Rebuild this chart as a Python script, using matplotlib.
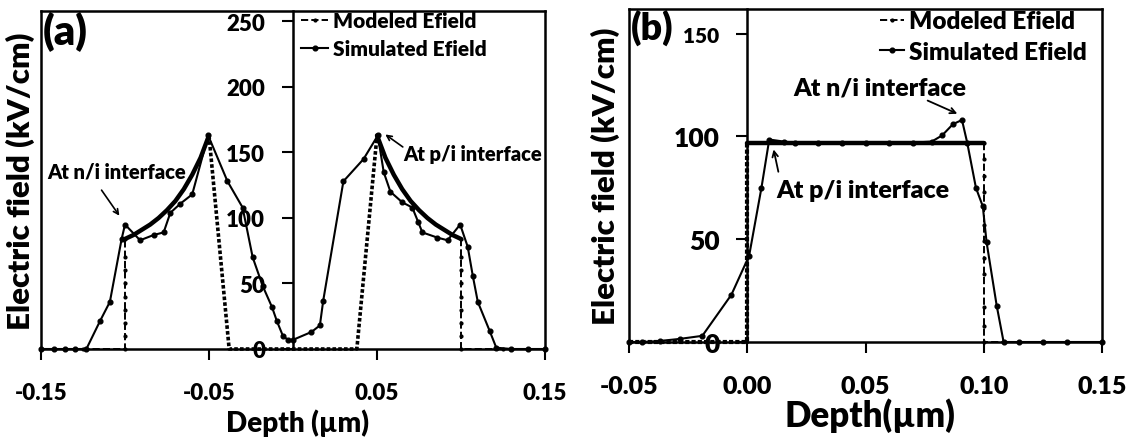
import matplotlib
matplotlib.use("Agg")
import matplotlib.pyplot as plt
from matplotlib.lines import Line2D

plt.rcParams['font.family'] = ['Lato', 'DejaVu Sans']
plt.rcParams['font.weight'] = 'heavy'

# ---------------- Panel (a) data ----------------
a_sim_x = [-0.150, -0.142, -0.136, -0.130, -0.123, -0.115, -0.109, -0.102, -0.100,
           -0.091, -0.083, -0.077, -0.073, -0.067, -0.060, -0.0505, -0.039, -0.030,
           -0.024, -0.018, -0.0125, -0.0095, -0.006, -0.003, 0.000, 0.011, 0.016,
           0.018, 0.030, 0.042, 0.0505, 0.054, 0.058, 0.065, 0.071, 0.0745, 0.077,
           0.086, 0.092, 0.0995, 0.104, 0.107, 0.110, 0.117, 0.121, 0.130, 0.140, 0.150]
a_sim_y = [0, 0, 0, 0, 0, 21, 36, 84, 95,
           83, 87, 89, 104, 111, 118, 163, 128, 108,
           70, 48, 32, 21, 10, 7, 7, 13, 18,
           37, 128, 145, 163, 135, 120, 112, 108, 97, 89,
           85, 83, 95, 78, 56, 36, 14, 1, 0, 0, 0]

# modeled: vertical edges and baseline (dashed), field region curves (thick)
a_mod_edgeL_x = [-0.150, -0.125, -0.100, -0.100, -0.100, -0.100, -0.100, -0.100, -0.100, -0.100, -0.100]
a_mod_edgeL_y = [0, 0, 0, 10, 20, 30, 40, 50, 60, 70, 84]
a_mod_curveL_x = [-0.100, -0.095, -0.090, -0.085, -0.080, -0.075, -0.070, -0.065, -0.060, -0.055, -0.050]
a_mod_curveL_y = [84, 87, 91, 95, 100, 106, 113, 122, 133, 146, 163]
a_mod_mid_x = [-0.050, -0.038, 0.000, 0.038, 0.050]
a_mod_mid_y = [163, 0, 0, 0, 163]
a_mod_curveR_x = [0.050, 0.055, 0.060, 0.065, 0.070, 0.075, 0.080, 0.085, 0.090, 0.095, 0.100]
a_mod_curveR_y = [163, 146, 133, 122, 113, 106, 100, 95, 91, 87, 84]
a_mod_edgeR_x = [0.100, 0.100, 0.100, 0.100, 0.100, 0.100, 0.100, 0.100, 0.100, 0.125, 0.150]
a_mod_edgeR_y = [84, 70, 60, 50, 40, 30, 20, 10, 0, 0, 0]

a_xticks = [-0.15, -0.05, 0.05, 0.15]
a_xticklabels = ['-0.15', '-0.05', '0.05', '0.15']
a_yticks = [0, 50, 100, 150, 200, 250]

# ---------------- Panel (b) data ----------------
b_sim_x = [-0.050, -0.0445, -0.037, -0.0286, -0.019, -0.0067, 0.0008, 0.006, 0.0093,
           0.0155, 0.020, 0.030, 0.040, 0.050, 0.060, 0.070, 0.078, 0.0824, 0.087,
           0.0908, 0.093, 0.0967, 0.0996, 0.1012, 0.1055, 0.1084, 0.115, 0.125, 0.135, 0.150]
b_sim_y = [0, 0, 0.5, 1.5, 3, 23, 42, 75, 98.5,
           97.5, 97, 97, 97, 97, 97, 97, 97.5, 100.5, 106,
           108, 97, 75, 66, 48.5, 17.5, 0, 0, 0, 0, 0]

b_mod_edgeL_x = [-0.050, -0.025, 0.000, 0.000, 0.000, 0.000, 0.000, 0.000, 0.000, 0.000, 0.000, 0.000, 0.000]
b_mod_edgeL_y = [0, 0, 0, 8, 16, 24, 32, 40, 48, 56, 64, 80, 97]
b_mod_flat_x = [0.000, 0.100]
b_mod_flat_y = [97, 97]
b_mod_edgeR_x = [0.100, 0.100, 0.100, 0.100, 0.100, 0.100, 0.100, 0.100, 0.100, 0.100, 0.100, 0.100, 0.125, 0.150]
b_mod_edgeR_y = [97, 89, 81, 73, 65, 57, 49, 41, 33, 17, 8, 0, 0, 0]

b_xticks = [-0.05, 0.00, 0.05, 0.10, 0.15]
b_xticklabels = ['-0.05', '0.00', '0.05', '0.10', '0.15']
b_yticks = [0, 50, 100, 150]

W, H = 1130, 439
fig = plt.figure(figsize=(W / 100, H / 100), dpi=100)

def px_axes(l, r, t, b):
    return fig.add_axes([l / W, 1 - b / H, (r - l) / W, (b - t) / H])

axA = px_axes(41, 545, 12, 350)
axB = px_axes(629, 1102, 10, 343)

def style_axis(ax, xfs, yfs, xpad, ypad):
    for s in ['top', 'right', 'bottom', 'left']:
        ax.spines[s].set_linewidth(1.8)
    ax.spines['left'].set_position(('data', 0))
    ax.plot([0, 0], [0, 1], transform=ax.transAxes, color='black', lw=1.8, clip_on=False)
    ax.tick_params(axis='x', direction='out', length=8, width=1.5, pad=xpad,
                   labelsize=xfs, top=False)
    ax.tick_params(axis='y', direction='out', length=8, width=1.5, pad=ypad,
                   labelsize=yfs, right=False)
    for lab in ax.get_xticklabels() + ax.get_yticklabels():
        lab.set_fontweight('heavy')

sim_kw = dict(color='black', lw=1.5, marker='o', ms=3.4, clip_on=False, zorder=4)
edge_kw = dict(color='black', lw=1.4, ls='--', marker='.', ms=4, clip_on=False, zorder=3)
curve_kw = dict(color='black', lw=3.2, solid_capstyle='round', zorder=3)

# ---- panel (a)
axA.plot(a_sim_x, a_sim_y, **sim_kw)
axA.plot(a_mod_edgeL_x, a_mod_edgeL_y, **edge_kw)
axA.plot(a_mod_edgeR_x, a_mod_edgeR_y, **edge_kw)
axA.plot(a_mod_curveL_x, a_mod_curveL_y, **curve_kw)
axA.plot(a_mod_curveR_x, a_mod_curveR_y, **curve_kw)
axA.plot(a_mod_mid_x, a_mod_mid_y, color='black', lw=2.6, ls=(0, (1, 0.6)), clip_on=False, zorder=3)
axA.set_xlim(-0.15, 0.15)
axA.set_ylim(0, 258)
axA.set_xticks(a_xticks)
axA.set_xticklabels(a_xticklabels)
axA.set_yticks(a_yticks)
style_axis(axA, 16, 16, 16, 12)

axA.set_xlabel('Depth (µm)', fontsize=20, fontweight='heavy')
axA.xaxis.set_label_coords(0.508, -0.175)
axA.set_ylabel('Electric field (kV/cm)', fontsize=22.5, fontweight='heavy')
axA.yaxis.set_label_coords(-0.012, 0.5)
axA.text(0.004, 1.0, '(a)', transform=axA.transAxes, fontsize=30, fontweight='heavy',
         ha='left', va='top')

axA.text(-0.1464, 136, 'At n/i interface', fontsize=14.5, fontweight='heavy', ha='left', va='center')
axA.annotate('', xy=(-0.1024, 100), xytext=(-0.1149, 123),
             arrowprops=dict(arrowstyle='->', color='black', lw=1.2, mutation_scale=9))
axA.text(0.0655, 149, 'At p/i interface', fontsize=14.5, fontweight='heavy', ha='left', va='center')
axA.annotate('', xy=(0.0536, 165), xytext=(0.0667, 153),
             arrowprops=dict(arrowstyle='->', color='black', lw=1.2, mutation_scale=9))

handles = [Line2D([], [], color='black', lw=1.4, ls='--', marker='.', ms=4),
           Line2D([], [], color='black', lw=1.5, marker='o', ms=3.4)]
axA.legend(handles, ['Modeled Efield', 'Simulated Efield'], loc='upper left',
           bbox_to_anchor=(0.50, 1.025), frameon=False, handlelength=1.3,
           handletextpad=0.2, labelspacing=0.45, borderaxespad=0,
           prop={'weight': 'heavy', 'size': 15})

# ---- panel (b)
axB.plot(b_sim_x, b_sim_y, **sim_kw)
axB.plot(b_mod_edgeL_x, b_mod_edgeL_y, color='black', lw=3.0, ls=(0, (1, 0.5)), clip_on=False, zorder=3)
axB.plot(b_mod_edgeR_x, b_mod_edgeR_y, **edge_kw)
axB.plot(b_mod_flat_x, b_mod_flat_y, **curve_kw)
axB.set_xlim(-0.05, 0.15)
axB.set_ylim(0, 162)
axB.set_xticks(b_xticks)
axB.set_xticklabels(b_xticklabels)
axB.set_yticks(b_yticks)
style_axis(axB, 18, 19, 16, 12)
axB.get_yticklabels()[-1].set_fontsize(15)

axB.set_xlabel('Depth(µm)', fontsize=25, fontweight='heavy')
axB.xaxis.set_label_coords(0.51, -0.165)
axB.set_ylabel('Electric field (kV/cm)', fontsize=22.5, fontweight='heavy')
axB.yaxis.set_label_coords(-0.019, 0.5)
axB.text(0.004, 1.0, '(b)', transform=axB.transAxes, fontsize=27, fontweight='heavy',
         ha='left', va='top')

axB.text(0.0195, 124, 'At n/i interface', fontsize=18, fontweight='heavy', ha='left', va='center')
axB.annotate('', xy=(0.0899, 110.5), xytext=(0.0752, 118),
             arrowprops=dict(arrowstyle='->', color='black', lw=1.3, mutation_scale=10))
axB.text(0.0122, 74, 'At p/i interface', fontsize=18, fontweight='heavy', ha='left', va='center')
axB.annotate('', xy=(0.0109, 95), xytext=(0.0134, 81.5),
             arrowprops=dict(arrowstyle='->', color='black', lw=1.3, mutation_scale=10))

axB.legend(handles, ['Modeled Efield', 'Simulated Efield'], loc='upper left',
           bbox_to_anchor=(0.51, 1.025), frameon=False, handlelength=1.0,
           handletextpad=0.2, labelspacing=0.35, borderaxespad=0,
           prop={'weight': 'heavy', 'size': 17.5})

fig.savefig('out.png', dpi=100)
